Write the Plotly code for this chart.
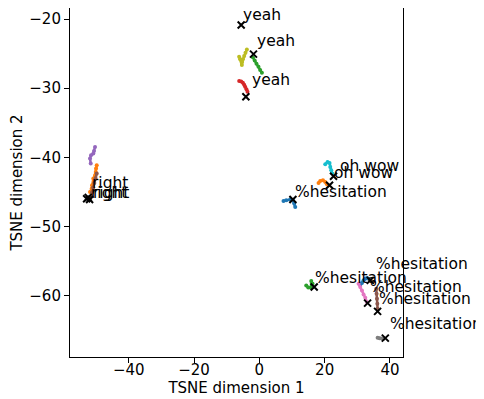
import plotly.graph_objects as go

# ---- trajectories (small dots), data coordinates ----
olive_x = [-3.82, -4.25, -4.65, -5.05, -5.27, -5.36, -6.19, -5.88]
olive_y = [-24.38, -24.87, -25.35, -25.82, -26.22, -26.65, -25.45, -25.82]
green_top_x = [-2.0, -1.43, -0.88, -0.27, 0.25, 0.78]
green_top_y = [-25.53, -26.0, -26.45, -26.91, -27.35, -27.77]
red_x = [-6.18, -5.57, -5.05, -4.65, -4.35, -3.95, -3.64]
red_y = [-28.97, -29.04, -29.22, -29.48, -29.8, -30.16, -30.52]

purple_x = [-50.33, -50.64, -50.86, -51.56, -51.87, -51.65]
purple_y = [-38.49, -39.07, -39.45, -39.69, -40.17, -40.9]
orange_left_x = [-49.81, -50.03, -50.12, -50.33, -50.86, -51.25, -51.35, -51.87]
orange_left_y = [-41.14, -41.62, -42.11, -42.59, -43.07, -44.04, -44.52, -45.01]
brown_left_x = [-49.81, -50.18, -50.55, -50.89, -51.25, -51.56]
brown_left_y = [-42.35, -43.03, -43.71, -44.38, -45.06, -45.74]

cyan_x = [20.18, 20.89, 21.5, 21.72, 22.02, 22.33]
cyan_y = [-41.0, -40.67, -40.81, -41.39, -41.87, -42.35]
orange_mid_x = [18.13, 18.65, 19.48, 20.18, 20.7, 21.2]
orange_mid_y = [-43.71, -43.42, -43.32, -43.56, -43.9, -44.04]
blue_mid_x = [7.4, 8.23, 9.45, 10.28, 10.68, 11.0]
blue_mid_y = [-46.32, -46.22, -46.11, -46.22, -46.69, -47.19]

green_bot_x = [14.36, 14.97, 15.8, 15.89, 16.29]
green_bot_y = [-58.54, -58.83, -58.87, -57.91, -58.29]
blue_bot_x = [30.91, 31.43, 31.92, 32.45, 32.97, 33.46]
blue_bot_y = [-58.43, -58.2, -57.81, -57.56, -57.48, -57.56]
pink_x = [30.39, 30.91, 31.43, 31.92, 32.45, 32.97]
pink_y = [-58.29, -58.78, -59.26, -59.84, -60.32, -60.96]
brown_bot_x = [35.82, 35.91, 36.03, 36.13, 36.22]
brown_bot_y = [-59.01, -59.74, -60.46, -61.19, -61.91]
grey_x = [36.22, 36.83, 37.45, 38.06]
grey_y = [-66.12, -66.17, -66.22, -66.26]

# ---- black "x" markers ----
marker_x = [-5.57, -1.8, -4.13, -52.9, -52.4, -52.0, 22.72, 21.5, 10.28,
            16.8, 33.98, 33.15, 36.22, 38.58]
marker_y = [-20.85, -25.06, -31.24, -46.0, -45.8, -46.1, -42.74, -44.04, -46.11,
            -58.78, -57.81, -61.1, -62.3, -66.17]

# ---- text labels (left edge / baseline) ----
label_text = ["yeah", "yeah", "yeah", "right", "right", "right", "oh wow", "oh wow",
              "%hesitation", "%hesitation", "%hesitation", "%hesitation",
              "%hesitation", "%hesitation"]
label_x = [-5.0, -0.57, -2.3, -51.35, -51.65, -51.04, 24.57, 22.94, 10.99,
           17.12, 35.82, 33.98, 36.53, 40.11]
label_y = [-19.85, -23.65, -29.3, -44.19, -45.6, -45.53, -41.62, -42.74, -45.49,
           -57.91, -55.88, -59.26, -60.96, -64.58]

x_ticks = [-40, -20, 0, 20, 40]
y_ticks = [-20, -30, -40, -50, -60]

series = [
    (olive_x, olive_y, "#bcbd22"),
    (green_top_x, green_top_y, "#2ca02c"),
    (red_x, red_y, "#d62728"),
    (purple_x, purple_y, "#9467bd"),
    (orange_left_x, orange_left_y, "#ff7f0e"),
    (brown_left_x, brown_left_y, "#8c564b"),
    (cyan_x, cyan_y, "#17becf"),
    (orange_mid_x, orange_mid_y, "#ff7f0e"),
    (blue_mid_x, blue_mid_y, "#1f77b4"),
    (green_bot_x, green_bot_y, "#2ca02c"),
    (blue_bot_x, blue_bot_y, "#1f77b4"),
    (pink_x, pink_y, "#e377c2"),
    (brown_bot_x, brown_bot_y, "#8c564b"),
    (grey_x, grey_y, "#7f7f7f"),
]

fig = go.Figure()
for xs, ys, col in series:
    fig.add_trace(go.Scatter(
        x=xs, y=ys, mode="lines+markers",
        line=dict(color=col, width=2.5),
        marker=dict(color=col, size=4),
        showlegend=False, hoverinfo="skip"))

fig.add_trace(go.Scatter(
    x=marker_x, y=marker_y, mode="markers",
    marker=dict(symbol="x-thin", size=7, color="black",
                line=dict(color="black", width=2)),
    showlegend=False, hoverinfo="skip"))

FONT = "DejaVu Sans"
for t, lx, ly in zip(label_text, label_x, label_y):
    fig.add_annotation(x=lx, y=ly, text=t, showarrow=False,
                       xanchor="left", yanchor="bottom", yshift=-8, xshift=-2,
                       font=dict(family=FONT, size=15.5, color="black"))

axis_common = dict(
    showgrid=False, zeroline=False, showline=True, mirror=True,
    linecolor="black", linewidth=1.1, ticks="outside", ticklen=5,
    tickwidth=1.1, tickcolor="black", automargin=False,
    tickfont=dict(family=FONT, size=15, color="black"),
)

fig.update_xaxes(range=[-58, 44], tickvals=x_ticks, ticklabelstandoff=-6,
                 title=dict(text="TSNE dimension 1", standoff=2,
                            font=dict(family=FONT, size=15, color="black")),
                 **axis_common)
fig.update_yaxes(range=[-68.9, -18.39], tickvals=y_ticks,
                 title=dict(text="TSNE dimension 2", standoff=10,
                            font=dict(family=FONT, size=15, color="black")),
                 **axis_common)

# page body has an 8px margin: the figure is sized to fill the rest of the window
fig.update_layout(
    width=476, height=391,
    margin=dict(l=62, r=81, t=0, b=42, autoexpand=False),
    plot_bgcolor="white", paper_bgcolor="white",
)

fig.write_html("out.html")
